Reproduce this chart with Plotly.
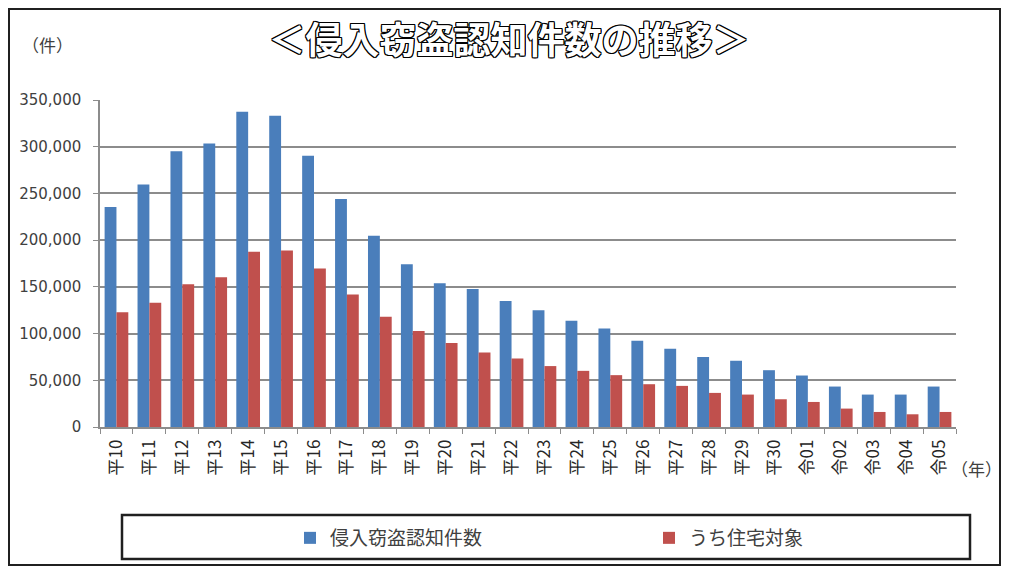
import plotly.graph_objects as go

years = ["平10", "平11", "平12", "平13", "平14", "平15", "平16", "平17", "平18", "平19",
         "平20", "平21", "平22", "平23", "平24", "平25", "平26", "平27", "平28", "平29",
         "平30", "令01", "令02", "令03", "令04", "令05"]
burglary_total = [235400, 259500, 295200, 303500, 337400, 333200, 290200, 244000, 204700, 174300,
                  153900, 147800, 134900, 125000, 113800, 105500, 92300, 83700, 74800, 70900,
                  60800, 55100, 43300, 34700, 34700, 43300]
burglary_home = [122700, 133100, 152800, 160300, 187500, 189000, 169600, 141700, 118100, 102700,
                 89800, 79800, 73400, 65200, 60100, 55500, 45800, 44000, 36500, 34700,
                 29700, 26800, 19700, 16100, 13600, 16100]

# the page puts the figure 8px in from each edge (body margin), keep it inside the window
OFF = 8
W, H = 1009 - 2 * OFF, 574 - 2 * OFF
# plot area in page pixels
X0, X1, Y0, Y1 = 100, 956, 100, 427
ML, MR, MT, MB = X0 - OFF, (OFF + W) - X1, Y0 - OFF, (OFF + H) - Y1
PW, PH = X1 - X0, Y1 - Y0


def px(x):
    return (x - X0) / PW


def py(y):
    return (Y1 - y) / PH


FONT = "Noto Sans CJK JP"
TXT = "#404040"
GRID = "#8c8c8c"

fig = go.Figure()
fig.add_trace(go.Bar(x=years, y=burglary_total, name="侵入窃盗認知件数", showlegend=True,
                     marker=dict(color="#4a7ebb", line=dict(width=0)), legend="legend"))
fig.add_trace(go.Bar(x=years, y=burglary_home, name="うち住宅対象", showlegend=True,
                     marker=dict(color="#c0504d", line=dict(width=0)), legend="legend2"))

legend_style = dict(orientation="h", yanchor="middle", xanchor="left",
                    bgcolor="rgba(0,0,0,0)", itemwidth=30,
                    font=dict(size=19, color=TXT, family=FONT))

fig.update_layout(
    width=W, height=H, showlegend=True,
    margin=dict(l=ML, r=MR, t=MT, b=MB, autoexpand=False),
    paper_bgcolor="white", plot_bgcolor="white",
    barmode="group", bargap=0.28, bargroupgap=0,
    font=dict(family=FONT, color=TXT, size=13),
    title=dict(text="＜侵入窃盗認知件数の推移＞", x=(509 - OFF) / W, xanchor="center",
               y=1 - (41 - OFF) / H, yanchor="middle",
               font=dict(family=FONT, size=37, color="white", weight="bold",
                         shadow="-1px -1px 0 #000, 1px -1px 0 #000, -1px 1px 0 #000, 1px 1px 0 #000,"
                                " 0 1px 0 #000, 0 -1px 0 #000, 1px 0 0 #000, -1px 0 0 #000")),
    legend=dict(x=px(290), y=py(538), **legend_style),
    legend2=dict(x=px(649), y=py(538), **legend_style),
)

fig.update_yaxes(range=[0, 350000], dtick=50000, tickformat=",",
                 showgrid=True, gridcolor=GRID, gridwidth=1.5,
                 showline=True, linecolor=GRID, linewidth=1.5,
                 ticks="outside", ticklen=5, tickcolor=GRID, ticklabelstandoff=9,
                 tickfont=dict(family="DejaVu Sans", size=15, color=TXT), zeroline=False)
fig.update_xaxes(showline=True, linecolor=GRID, linewidth=1.5,
                 ticks="outside", ticklen=5, tickcolor=GRID, tickson="boundaries",
                 tickangle=-90, ticklabelstandoff=4, tickfont=dict(size=17, color="#262626"))

fig.add_annotation(text="（件）", xref="paper", yref="paper", x=px(47), y=py(45),
                   xanchor="center", yanchor="middle",
                   showarrow=False, font=dict(size=17, color=TXT))
fig.add_annotation(text="（年）", xref="paper", yref="paper", x=px(976), y=py(468),
                   xanchor="center", yanchor="middle",
                   showarrow=False, font=dict(size=17, color=TXT))

# legend frame and outer frame
fig.add_shape(type="rect", xref="paper", yref="paper",
              x0=px(122), x1=px(970), y0=py(559), y1=py(515),
              line=dict(color="#202020", width=2.5), fillcolor="rgba(0,0,0,0)")
fig.add_shape(type="rect", xref="paper", yref="paper",
              x0=px(OFF + 1), x1=px(OFF + W - 1), y0=py(OFF + H - 1), y1=py(OFF + 1),
              line=dict(color="#202020", width=2), fillcolor="rgba(0,0,0,0)")

fig.write_html("out.html")
